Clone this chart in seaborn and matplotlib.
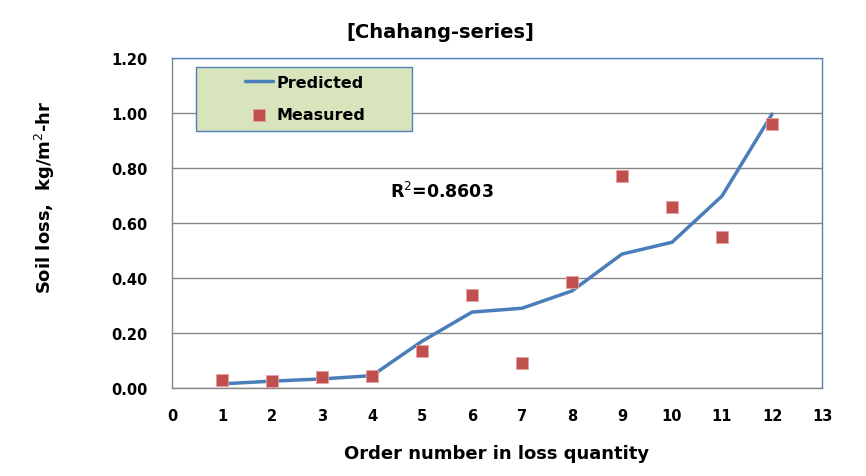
import matplotlib
matplotlib.use("Agg")
import matplotlib.pyplot as plt
import numpy as np
import pandas as pd
import seaborn as sns
from matplotlib.patches import Rectangle

# order number in loss quantity
order = [1, 2, 3, 4, 5, 6, 7, 8, 9, 10, 11, 12]
predicted = [0.015, 0.025, 0.033, 0.045, 0.170, 0.276, 0.290, 0.353, 0.487, 0.530, 0.698, 0.996]
measured = [0.029, 0.025, 0.040, 0.044, 0.135, 0.338, 0.091, 0.385, 0.771, 0.658, 0.549, 0.960]
r2_text = "R$^2$=0.8603"

df = pd.DataFrame({"order": order, "Predicted": predicted, "Measured": measured})

sns.set_theme(style="white")
plt.rcParams["font.family"] = ["DejaVu Sans"]
plt.rcParams["text.color"] = "black"
plt.rcParams["axes.labelcolor"] = "black"
plt.rcParams["xtick.color"] = "black"
plt.rcParams["ytick.color"] = "black"

W, H = 866, 477
fig = plt.figure(figsize=(W / 100, H / 100), dpi=100)
ax = fig.add_axes([172 / W, 1 - 389 / H, 650 / W, 330 / H])

grid_c = "#868686"
sns.lineplot(data=df, x="order", y="Predicted", ax=ax, color="#4A7EBB", lw=2.5,
             label="Predicted")
sns.scatterplot(data=df, x="order", y="Measured", ax=ax, color="#C0504D", marker="s",
                s=85, edgecolor="#E8A09E", linewidth=0.6, label="Measured", zorder=3)

ax.set_xlim(0, 13)
ax.set_ylim(0, 1.2)
ax.set_xticks(range(0, 14))
yt = np.arange(0, 1.21, 0.2)
ax.set_yticks(yt)
ax.set_yticklabels([f"{v:.2f}" for v in yt])
ax.yaxis.grid(True, color=grid_c, lw=1)
ax.set_axisbelow(True)
for s in ["top", "right"]:
    ax.spines[s].set_color("#4F81BD")
    ax.spines[s].set_linewidth(1)
for s in ["left", "bottom"]:
    ax.spines[s].set_color(grid_c)
    ax.spines[s].set_linewidth(1)
ax.tick_params(axis="both", which="both", direction="out", length=5, width=1,
               color=grid_c, labelsize=10.5)
ax.tick_params(axis="x", pad=9.5)
ax.tick_params(axis="y", pad=12.5)
for lab in ax.get_xticklabels() + ax.get_yticklabels():
    lab.set_fontweight("bold")

ax.set_xlabel("Order number in loss quantity", fontsize=13, fontweight="bold", labelpad=15)
ax.set_ylabel("")
fig.text(45 / W, 1 - 197 / H, "Soil loss,  kg/m$^2$-hr", fontsize=13, fontweight="bold",
         rotation=90, ha="center", va="center")
fig.text(440 / W, 1 - 33 / H, "[Chahang-series]", fontsize=14, fontweight="bold",
         ha="center", va="center")

ax.text(4.36, 0.715, r2_text, fontsize=12.5, fontweight="bold", va="center", ha="left")

# legend box
box = Rectangle((196 / W, 1 - 132 / H), 216 / W, 64 / H, transform=fig.transFigure,
                facecolor="#D8E4BC", edgecolor="#4F81BD", lw=1, zorder=4)
ax.add_patch(box)
leg = ax.legend(loc="upper left", bbox_to_anchor=(245 / W, 1 - 76 / H),
                bbox_transform=fig.transFigure, frameon=False,
                fontsize=11.5, borderpad=0, labelspacing=1.05,
                handlelength=1.75, handletextpad=0.25, borderaxespad=0)
leg.set_zorder(5)
for t in leg.get_texts():
    t.set_fontweight("bold")

fig.savefig("out.png", dpi=100)
